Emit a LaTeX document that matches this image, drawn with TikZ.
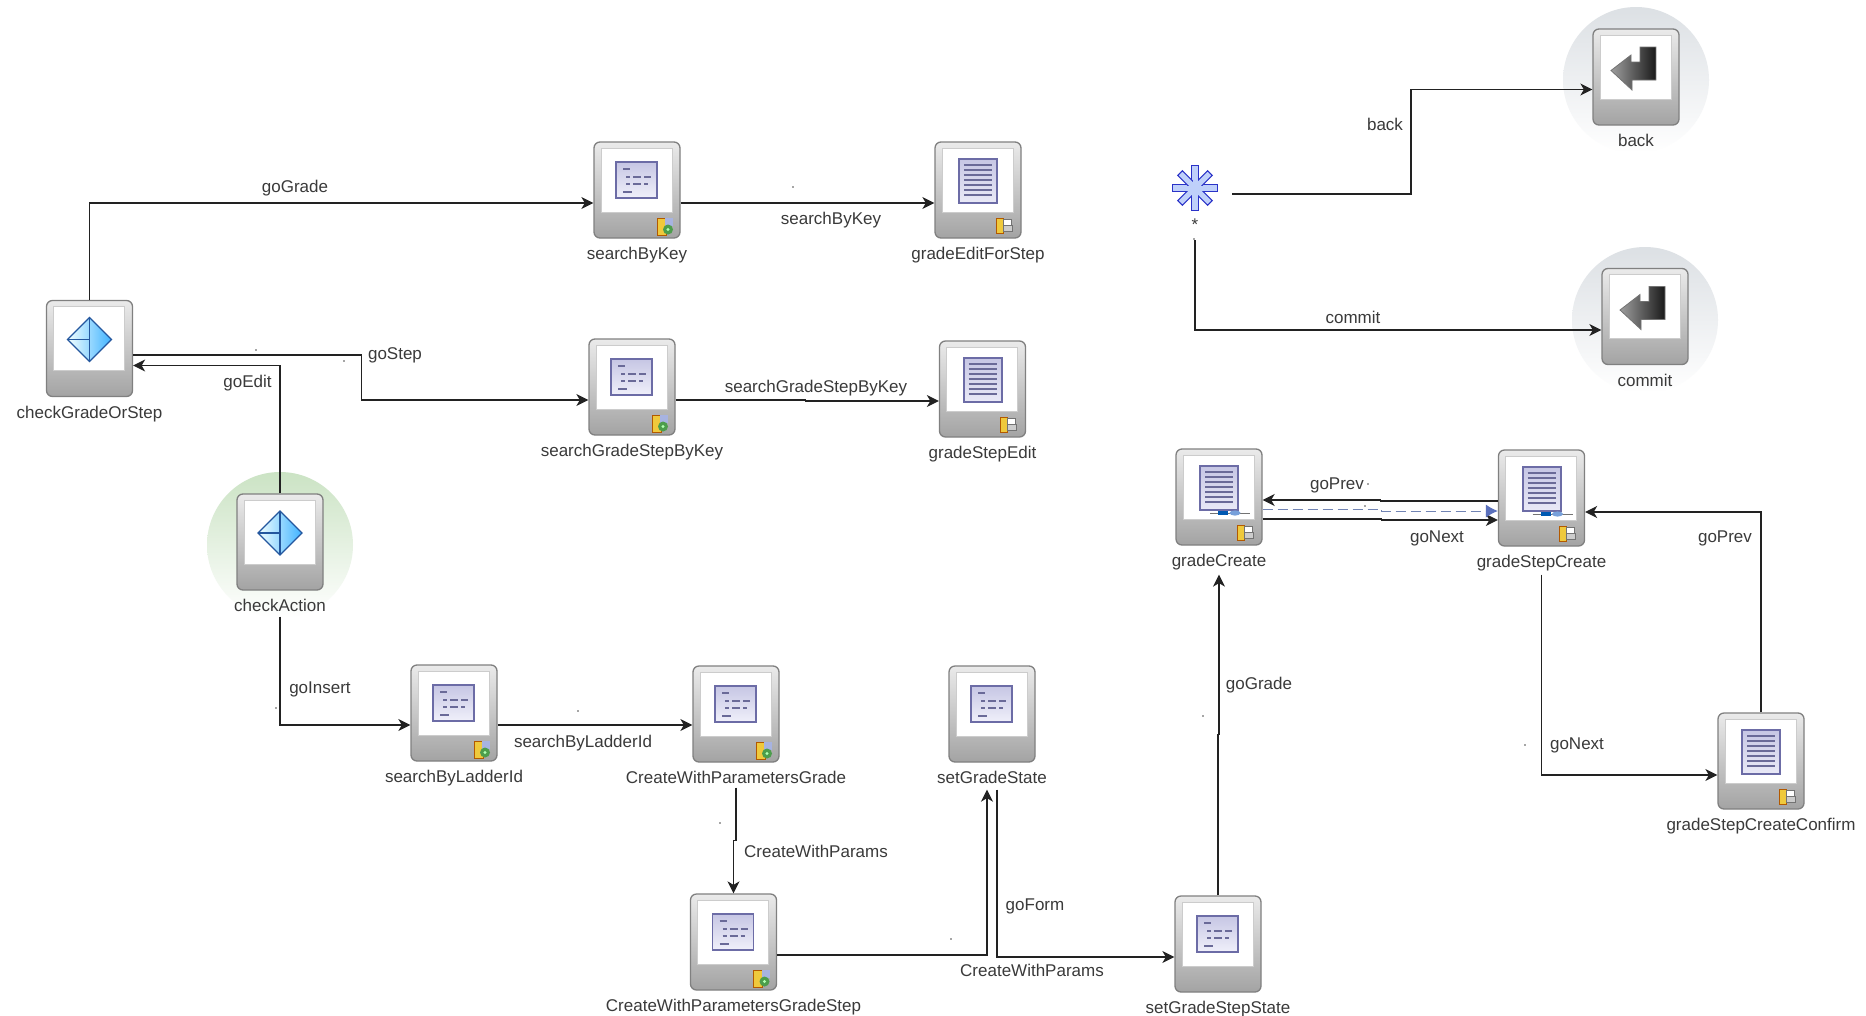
\documentclass[tikz,border=0pt]{standalone}
\usepackage{fontspec}
\setmainfont{Liberation Sans}
\usetikzlibrary{arrows.meta,calc}
\definecolor{linec}{HTML}{222222}
\definecolor{textc}{HTML}{3A3A3A}
\definecolor{boxedge}{HTML}{808080}
\definecolor{formedge}{HTML}{6C6CA6}
\definecolor{formline}{HTML}{6A6A98}
\definecolor{formtop}{HTML}{C6C6E4}
\definecolor{formbot}{HTML}{F0F0FA}
\definecolor{dashblue}{HTML}{7184B4}
\definecolor{tipblue}{HTML}{5A70BC}
\definecolor{diaedge}{HTML}{24579E}
\definecolor{staredge}{HTML}{2A32C8}
\definecolor{starfill}{HTML}{BFD0FA}
\definecolor{greendisc}{HTML}{CBE3C4}
\definecolor{greydisc}{HTML}{DCE0E4}
\definecolor{badgey}{HTML}{EFC93C}
\tikzset{
  stbox/.style={rectangle,rounded corners=6,minimum width=86,minimum height=96,inner sep=0,draw=boxedge,line width=1.3,top color=white!92!black,bottom color=white!64!black},
  stlabel/.style={inner sep=0,text=textc,text height=14,text depth=2,font=\fontsize{17}{19}\selectfont},
  conlabel/.style={stlabel},
  conn/.style={draw=linec,line width=1.25,-{Stealth[length=12,width=12,inset=3.5]}},
  dashconn/.style={draw=dashblue,line width=1,dash pattern=on 10pt off 5pt,-{Latex[length=12,width=13,color=tipblue]}},
  panel/.pic={\draw[fill=white,draw=white!80!black,line width=.8] (-36,-42) rectangle (35,22);},
  formicon/.pic={
    \draw[draw=formedge,line width=1.8,top color=formtop,bottom color=formbot] (-21,-28) rectangle (20,8);
    \draw[formline,line width=1.5] (-14,-21)--(-7,-21) (-11,-13)--(-7,-13) (-4,-13)--(4,-13) (7,-13)--(14,-13)
      (-11,-6)--(-7,-6) (-4,-6)--(4,-6) (7,-6)--(11,-6) (-14,2)--(-5,2);
  },
  pageicon/.pic={
    \draw[draw=formedge,line width=2,top color=formtop,bottom color=formbot!85!formtop] (-19,-31) rectangle (19,13);
    \foreach \q in {-25,-20,-15,-10,-5,0,5}{\draw[formline,line width=1.3] (-14,\q)--(14,\q);}
  },
  flowbits/.pic={
    \draw[white!45!black,line width=.8] (-9,16)--(31,16);
    \fill[blue!50!cyan!70!black] (-1,13.5) rectangle (9,18);
    \fill[cyan!50!blue!55!white] (16,16) ellipse (5.5 and 2.6);
  },
  diamondicon/.pic={
    \draw[draw=diaedge,line width=1.3,left color=white!95!cyan,right color=cyan!60!blue!75!white] (0,-31)--(22,-9)--(0,13)--(-22,-9)--cycle;
    \draw[diaedge,line width=1.7] (0,-31)--(0,13) (-22,-9)--(0,-9);
  },
  returnicon/.pic={
    \draw[draw=black!55,line width=.8,left color=white!62!black,right color=black!90]
      (-25,-6.5)--(-5,-22)--(-5,-15)--(4,-15)--(4,-30)--(20,-30)--(20,3)--(-4,3)--(-4,13)--cycle;
  },
  formbadge/.pic={
    \fill[badgey] (20,28) rectangle (29,45);
    \draw[orange!70!black,line width=.5] (20,28) rectangle (29,45);
    \fill[cyan!35!blue!35!white] (28,28) rectangle (36,36);
    \fill[green!45!black!70!white] (31,39.5) circle (5);
    \fill[white!70!green] (31,39.5) circle (1.6);
  },
  pagebadge/.pic={
    \fill[badgey] (18,28) rectangle (25,43);
    \draw[orange!70!black,line width=.5] (18,28) rectangle (25,43);
    \draw[white!45!black,line width=.8,fill=white] (25,29) rectangle (33,35);
    \draw[white!45!black,line width=.8,fill=white!80!black] (25,35) rectangle (34,41);
  },
}
% name, position, label
\newcommand{\stnode}[3]{%
  \node[stbox] (#1) at (#2) {};
  \node[stlabel] (#1-l) at ([yshift=-15]#1.south) {#3};
  \pic at (#1.center) {panel};
}
\begin{document}
\begin{tikzpicture}[x=1pt,y=-1pt]
\useasboundingbox (0,0) rectangle (1866,1015);
\fill[white] (0,0) rectangle (1866,1015);

% highlight discs
\shade[top color=greendisc,bottom color=white] (280,545) circle (73);
\shade[top color=greydisc,bottom color=white] (1636,80) circle (73);
\shade[top color=greydisc,bottom color=white] (1645,320) circle (73);

% states
\stnode{sbk}{637,190}{searchByKey}
\pic at (sbk.center) {formicon}; \pic at (sbk.center) {formbadge};
\stnode{gef}{978,190}{gradeEditForStep}
\pic at (gef.center) {pageicon}; \pic at (gef.center) {pagebadge};
\stnode{cgs}{89.5,348.5}{checkGradeOrStep}
\pic at (cgs.center) {diamondicon};
\stnode{sgk}{632,387}{searchGradeStepByKey}
\pic at (sgk.center) {formicon}; \pic at (sgk.center) {formbadge};
\stnode{gse}{982.5,389}{gradeStepEdit}
\pic at (gse.center) {pageicon}; \pic at (gse.center) {pagebadge};
\stnode{ca}{280,542}{checkAction}
\pic at (ca.center) {diamondicon};
\stnode{sbl}{454,713}{searchByLadderId}
\pic at (sbl.center) {formicon}; \pic at (sbl.center) {formbadge};
\stnode{cpg}{736,714}{CreateWithParametersGrade}
\pic at (cpg.center) {formicon}; \pic at (cpg.center) {formbadge};
\stnode{sgs}{992,714}{setGradeState}
\pic at (sgs.center) {formicon};
\stnode{cps}{733.5,942}{CreateWithParametersGradeStep}
\pic at (cps.center) {formicon}; \pic at (cps.center) {formbadge};
\stnode{sgss}{1218,944}{setGradeStepState}
\pic at (sgss.center) {formicon};
\stnode{gc}{1219,497}{gradeCreate}
\pic at (gc.center) {pageicon}; \pic at (gc.center) {flowbits}; \pic at (gc.center) {pagebadge};
\stnode{gsc}{1541.5,498}{gradeStepCreate}
\pic at (gsc.center) {pageicon}; \pic at (gsc.center) {flowbits}; \pic at (gsc.center) {pagebadge};
\stnode{conf}{1761,761}{gradeStepCreateConfirm}
\pic at (conf.center) {pageicon}; \pic at (conf.center) {pagebadge};
\stnode{bk}{1636,77}{back}
\pic at (bk.center) {returnicon};
\stnode{com}{1645,316.5}{commit}
\pic at (com.center) {returnicon};

% wildcard
\node[inner sep=0,minimum size=46] (star) at (1195,188) {};
\foreach \a/\r in {0/22.5,45/21,90/22.5,135/21}{
  \draw[staredge,line width=1.3,fill=starfill,rotate around={\a:(star.center)}] ($(star.center)+(-\r,-3.2)$) rectangle ($(star.center)+(\r,3.2)$);
}
\foreach \a/\r in {0/21.8,45/20.3,90/21.8,135/20.3}{
  \fill[starfill,rotate around={\a:(star.center)}] ($(star.center)+(-\r,-2.5)$) rectangle ($(star.center)+(\r,2.5)$);
}
\node[conlabel] (star-l) at (1195,224) {*};

% connectors
\draw[conn] (cgs.north) |- ([yshift=-13]sbk.west);
\draw[conn] ([yshift=-13]sbk.east) -- ([yshift=-13]gef.west);
\draw[conn] ([yshift=-6.5]cgs.east) -- ++(228,0) |- ([yshift=-13]sgk.west);
\draw[conn] (ca.north) |- ([yshift=-17]cgs.east);
\draw[conn] ([yshift=-13]sgk.east) -- ++(130,0) -- ++(0,1) -- ([yshift=-12]gse.west);
\draw[conn] ([yshift=-26]ca.south) |- ([yshift=-12]sbl.west);
\draw[conn] ([yshift=-12]sbl.east) -- ([yshift=-11]cpg.west);
\draw[conn] ([yshift=-25]cpg.south) -- ++(0,53) -| (cps.north);
\draw[conn] ([yshift=-13]cps.east) -| ([xshift=-5,yshift=-27]sgs.south);
\draw[conn] ([xshift=5,yshift=-27]sgs.south) |- ([yshift=-13]sgss.west);
\draw[conn] (sgss.north) -- ++(0,-161) -| ([yshift=-29]gc.south);
\draw[conn] ([yshift=-3]gsc.west) -- ++(-117,0) -- ++(0,-1) -- ([yshift=-3]gc.east);
\draw[conn] ([yshift=-22]gc.east) -- ++(119,0) -- ++(0,1) -- ([yshift=-22]gsc.west);
\draw[dashconn] ([yshift=-12]gc.east) -- ++(119,0) -- ++(0,2) -- ([yshift=-13]gsc.west);
\draw[conn] ([yshift=-28]gsc.south) |- ([yshift=-14]conf.west);
\draw[conn] (conf.north) |- ([yshift=-14]gsc.east);
\draw[conn] ([xshift=37,yshift=-6]star.center) -- ++(179,0) |- ([yshift=-12.5]bk.west);
\draw[conn] ([yshift=-52]star.center) |- ([yshift=-13.5]com.west);

% connector labels
\node[conlabel] (t1) at (295,186) {goGrade};
\node[conlabel] (t2) at (831,218) {searchByKey};
\node[conlabel] (t3) at (395,353) {goStep};
\node[conlabel] (t4) at (247.5,381) {goEdit};
\node[conlabel] (t5) at (816,386) {searchGradeStepByKey};
\node[conlabel] (t6) at (320,687) {goInsert};
\node[conlabel] (t7) at (583,741) {searchByLadderId};
\node[conlabel] (t8) at (816,851) {CreateWithParams};
\node[conlabel] (t9) at (1032,970) {CreateWithParams};
\node[conlabel] (t10) at (1035,904) {goForm};
\node[conlabel] (t11) at (1259,683) {goGrade};
\node[conlabel] (t12) at (1337,483) {goPrev};
\node[conlabel] (t13) at (1437,536) {goNext};
\node[conlabel] (t14) at (1577,743) {goNext};
\node[conlabel] (t15) at (1725,536) {goPrev};
\node[conlabel] (t16) at (1385,124) {back};
\node[conlabel] (t17) at (1353,317) {commit};

% small specks
\foreach \p in {(793,187),(256,350),(344,361),(276,708),(578,711),(720,823),(951,939),(1203,716),(1525,745),(1368,484),(1365,506),(1194,239)}{
  \fill[black!70] \p circle (.8);
}
\end{tikzpicture}
\end{document}
